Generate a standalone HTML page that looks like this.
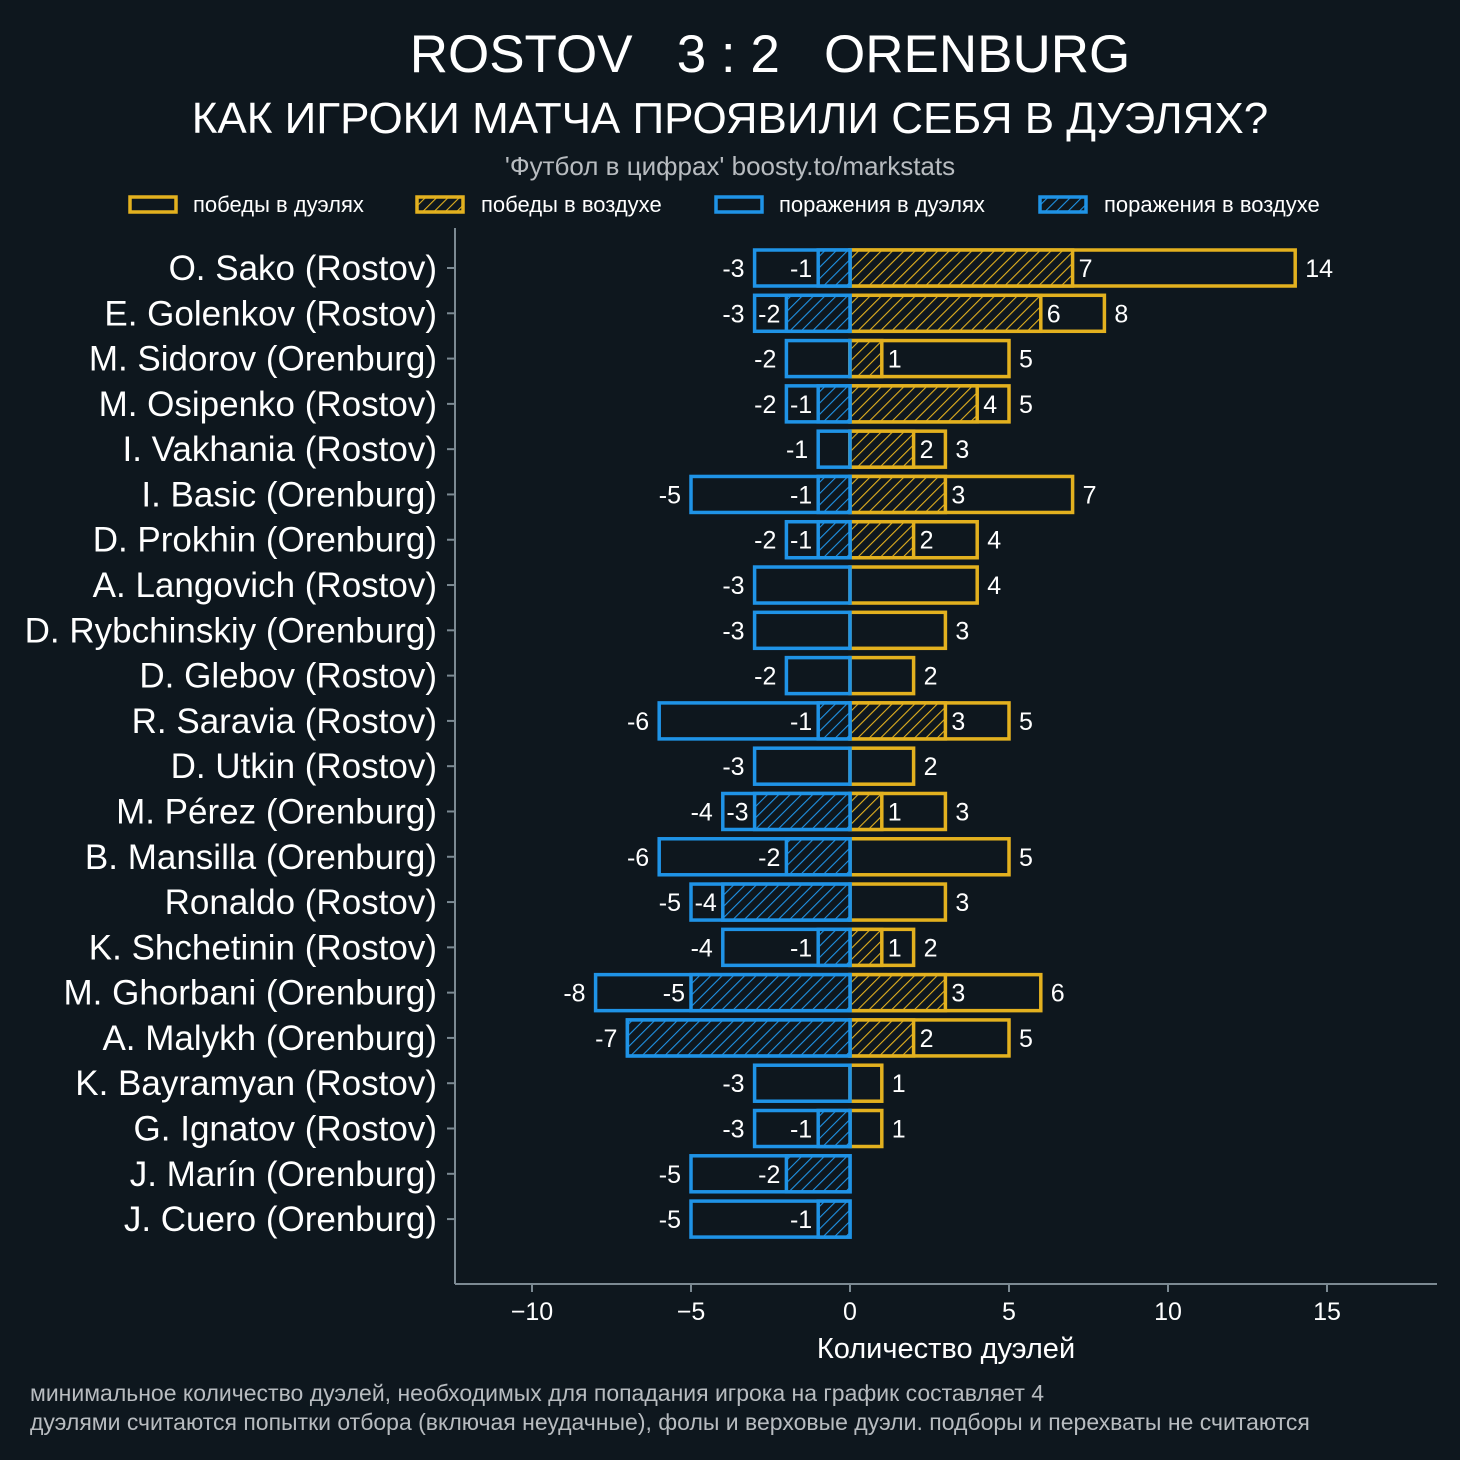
<!DOCTYPE html>
<html><head><meta charset="utf-8"><style>
html,body{margin:0;padding:0;background:#0e171e;}
svg{display:block;font-family:"Liberation Sans","DejaVu Sans",sans-serif;}
</style></head><body>
<svg id="chart" width="1460" height="1460" viewBox="0 0 1460 1460">
<defs>
<pattern id="hg" patternUnits="userSpaceOnUse" width="8" height="8" patternTransform="rotate(45)"><rect width="8" height="8" fill="#0e171e"/><line x1="0" y1="0" x2="0" y2="8" stroke="#e3b11f" stroke-width="2.2"/></pattern>
<pattern id="hb" patternUnits="userSpaceOnUse" width="8" height="8" patternTransform="rotate(45)"><rect width="8" height="8" fill="#0e171e"/><line x1="0" y1="0" x2="0" y2="8" stroke="#1f93e6" stroke-width="2.2"/></pattern>
</defs>
<text x="770" y="72" text-anchor="middle" fill="#fff" font-size="53">ROSTOV&#160;&#160;&#160;3 : 2&#160;&#160;&#160;ORENBURG</text>
<text x="730" y="133" text-anchor="middle" fill="#fff" font-size="44">КАК ИГРОКИ МАТЧА ПРОЯВИЛИ СЕБЯ В ДУЭЛЯХ?</text>
<text x="730" y="175" text-anchor="middle" fill="#b8bcc0" font-size="26">'Футбол в цифрах' boosty.to/markstats</text>
<g font-size="22" fill="#fff">
<rect x="130" y="197" width="46" height="15" fill="none" stroke="#e3b11f" stroke-width="3.5"/>
<text x="193" y="212">победы в дуэлях</text>
<rect x="417" y="197" width="46" height="15" fill="url(#hg)" stroke="#e3b11f" stroke-width="3.5"/>
<text x="481" y="212">победы в воздухе</text>
<rect x="716" y="197" width="46" height="15" fill="none" stroke="#1f93e6" stroke-width="3.5"/>
<text x="779" y="212">поражения в дуэлях</text>
<rect x="1040" y="197" width="46" height="15" fill="url(#hb)" stroke="#1f93e6" stroke-width="3.5"/>
<text x="1104" y="212">поражения в воздухе</text>
</g>
<g id="plot"></g>
<text x="946" y="1358" text-anchor="middle" fill="#fff" font-size="29">Количество дуэлей</text>
<text x="30" y="1401" fill="#b8bcc0" font-size="23">минимальное количество дуэлей, необходимых для попадания игрока на график составляет 4</text>
<text x="30" y="1430" fill="#b8bcc0" font-size="23">дуэлями считаются попытки отбора (включая неудачные), фолы и верховые дуэли. подборы и перехваты не считаются</text>
</svg>
<script>
const players = ["O. Sako (Rostov)","E. Golenkov (Rostov)","M. Sidorov (Orenburg)","M. Osipenko (Rostov)","I. Vakhania (Rostov)","I. Basic (Orenburg)","D. Prokhin (Orenburg)","A. Langovich (Rostov)","D. Rybchinskiy (Orenburg)","D. Glebov (Rostov)","R. Saravia (Rostov)","D. Utkin (Rostov)","M. Pérez (Orenburg)","B. Mansilla (Orenburg)","Ronaldo (Rostov)","K. Shchetinin (Rostov)","M. Ghorbani (Orenburg)","A. Malykh (Orenburg)","K. Bayramyan (Rostov)","G. Ignatov (Rostov)","J. Marín (Orenburg)","J. Cuero (Orenburg)"];
const wins = [14,8,5,5,3,7,4,4,3,2,5,2,3,5,3,2,6,5,1,1,0,0];
const airWins = [7,6,1,4,2,3,2,0,0,0,3,0,1,0,0,1,3,2,0,0,0,0];
const losses = [-3,-3,-2,-2,-1,-5,-2,-3,-3,-2,-6,-3,-4,-6,-5,-4,-8,-7,-3,-3,-5,-5];
const airLosses = [-1,-2,0,-1,0,-1,-1,0,0,0,-1,0,-3,-2,-4,-1,-5,-7,0,-1,-2,-1];
const xTicks = [-10,-5,0,5,10,15];

const NS="http://www.w3.org/2000/svg";
const plot=document.getElementById('plot');
const X0=850, PX=31.8;
const xs=v=>X0+v*PX;
const ys=i=>268+i*45.29;
const BH=36;
function el(tag,attrs){const e=document.createElementNS(NS,tag);for(const k in attrs)e.setAttribute(k,attrs[k]);plot.appendChild(e);return e;}
const GOLD="#e3b11f", BLUE="#1f93e6";
let a=el('line',{x1:455,y1:228,x2:455,y2:1284,stroke:"#7c8a93","stroke-width":2});


a=el('line',{x1:455,y1:1284,x2:1437,y2:1284,stroke:"#7c8a93","stroke-width":2});


xTicks.forEach(t=>{
  const l=el('line',{x1:xs(t),y1:1284,x2:xs(t),y2:1292,stroke:"#7c8a93","stroke-width":2});
  
  
  const tx=el('text',{x:xs(t),y:1320,"text-anchor":"middle",fill:"#fff","font-size":25});
  tx.textContent=t<0?"\u2212"+(-t):String(t);
  
  
});
function bar(v,fill,stroke,y,name){
  const x1=Math.min(xs(0),xs(v)),w=Math.abs(xs(v)-xs(0));
  const r=el('rect',{x:x1,y:y-BH/2,width:w,height:BH,fill:fill,stroke:stroke,"stroke-width":3.5});
  
  
}
function label(txt,x,y,anchor,name){
  const t=el('text',{x:x,y:y+9,"text-anchor":anchor,fill:"#fff","font-size":25});
  t.textContent=txt;
  
  
}
players.forEach((p,i)=>{
  const y=ys(i);
  const tk=el('line',{x1:447,y1:y,x2:455,y2:y,stroke:"#7c8a93","stroke-width":2});
  
  
  const n=el('text',{x:437,y:y+12,"text-anchor":"end",fill:"#fff","font-size":35});
  n.textContent=p;
  
  
  if(wins[i]>0) bar(wins[i],"none",GOLD,y,'wins-bar');
  if(airWins[i]>0) bar(airWins[i],"url(#hg)",GOLD,y,'air-wins-bar');
  if(losses[i]<0) bar(losses[i],"none",BLUE,y,'losses-bar');
  if(airLosses[i]<0) bar(airLosses[i],"url(#hb)",BLUE,y,'air-losses-bar');
  if(wins[i]>0) label(String(wins[i]),xs(wins[i])+10,y,'start','wins-value');
  if(airWins[i]>0 && airWins[i]!==wins[i]) label(String(airWins[i]),xs(airWins[i])+6,y,'start','air-wins-value');
  if(losses[i]<0) label(String(losses[i]),xs(losses[i])-10,y,'end','losses-value');
  if(airLosses[i]<0 && airLosses[i]!==losses[i]) label(String(airLosses[i]),xs(airLosses[i])-6,y,'end','air-losses-value');
});
</script>
</body></html>
